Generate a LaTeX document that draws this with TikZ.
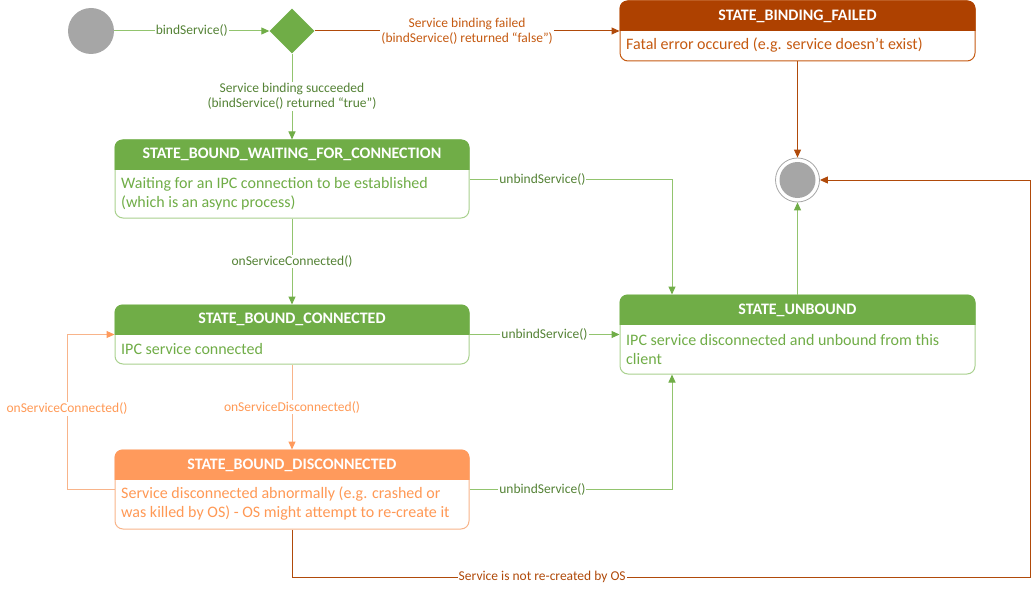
\documentclass[tikz,border=0pt]{standalone}
\usepackage{fontspec}
\setmainfont{Carlito}
\usetikzlibrary{arrows.meta,shapes.geometric}
\definecolor{gA}{HTML}{70AD47}
\definecolor{gL}{HTML}{A9D18E}
\definecolor{gLine}{HTML}{92C46E}
\definecolor{gD}{HTML}{548235}
\definecolor{rA}{HTML}{AE4100}
\definecolor{rT}{HTML}{C55A11}
\definecolor{rD}{HTML}{B04A0A}
\definecolor{oA}{HTML}{FF9A5C}
\definecolor{oL}{HTML}{F8B48A}
\definecolor{oT}{HTML}{FF9955}
\definecolor{greyc}{HTML}{A6A6A6}
\newcommand{\hdr}[3]{%
  \begin{scope}
    \clip ([shift={(-2,-2)}]#1.north west) rectangle ([shift={(2,#3)}]#1.north east);
    \fill[#2, rounded corners=8pt] (#1.north west) rectangle (#1.south east);
  \end{scope}}
\tikzset{
  box/.style={rectangle, rounded corners=8pt, line width=1pt, fill=white, inner sep=0pt},
  ttl/.style={text=white, font=\fontsize{16}{18}\selectfont\bfseries, inner sep=0pt},
  body/.style={anchor=west, align=left, inner sep=0pt, font=\fontsize{16}{19}\selectfont},
  lbl/.style={fill=white, inner sep=1pt, align=center, font=\fontsize{13.5}{15}\selectfont},
  gline/.style={draw=gLine, line width=1pt, -{Triangle[length=8pt,width=7pt,color=gA]}},
  oline/.style={draw=oL, line width=1pt, -{Triangle[length=8pt,width=7pt,color=oA]}},
  rline/.style={draw=rD, line width=1pt, -{Triangle[length=8pt,width=7pt,color=rD]}}
}
\begin{document}
\begin{tikzpicture}[x=1pt,y=-1pt]
\useasboundingbox (0,0) rectangle (1033,591);
% initial & decision
\node[circle, fill=greyc, minimum size=46pt, inner sep=0pt] (init) at (91,31) {};
\node[diamond, fill=gA, minimum width=45pt, minimum height=45pt, inner sep=0pt] (dia) at (292,31) {};
% failed state
\node[box, draw=rT, minimum width=355pt, minimum height=60pt] (fail) at (797.5,31) {};
\hdr{fail}{rA}{30}
\node[ttl] (failT) at (797.5,16) {STATE\_BINDING\_FAILED};
\node[body, text=rT] (failB) at (626,45) {Fatal error occured (e.g. service doesn't exist)};
% final state
\node[circle, draw=greyc, line width=0.8pt, minimum size=44pt, inner sep=0pt] (fin) at (797.5,180) {};
\fill[greyc] (fin.center) circle[radius=18pt];
% waiting
\node[box, draw=gL, minimum width=354pt, minimum height=78pt] (wait) at (292,179) {};
\hdr{wait}{gA}{29.5}
\node[ttl] (waitT) at (292,154) {STATE\_BOUND\_WAITING\_FOR\_CONNECTION};
\node[body, text=gA] (waitB) at (121,193.5) {Waiting for an IPC connection to be established\\(which is an async process)};
% connected
\node[box, draw=gL, minimum width=354pt, minimum height=59pt] (conn) at (292,334.5) {};
\hdr{conn}{gA}{29.5}
\node[ttl] (connT) at (292,319.5) {STATE\_BOUND\_CONNECTED};
\node[body, text=gA] (connB) at (121,349) {IPC service connected};
% disconnected
\node[box, draw=oL, minimum width=354pt, minimum height=79pt] (disc) at (292,489.5) {};
\hdr{disc}{oA}{30}
\node[ttl] (discT) at (292,465) {STATE\_BOUND\_DISCONNECTED};
\node[body, text=oT] (discB) at (121,504) {Service disconnected abnormally (e.g. crashed or\\was killed by OS) - OS might attempt to re-create it};
% unbound
\node[box, draw=gL, minimum width=355pt, minimum height=79pt] (unb) at (797.5,334.5) {};
\hdr{unb}{gA}{30}
\node[ttl] (unbT) at (797.5,310) {STATE\_UNBOUND};
\node[body, text=gA] (unbB) at (626,349.5) {IPC service disconnected and unbound from this\\client};
% helper coordinates
\coordinate (ux) at (672,0);
\coordinate (lx) at (67,0);
\coordinate (br) at (1030,577);
% connectors
\draw[gline] (init) -- node[lbl, text=gD] (l1) {bindService()} (dia);
\draw[rline] (dia) -- node[lbl, text=rT] (l2) {Service binding failed\\(bindService() returned “false”)} (fail);
\draw[gline] (dia) -- node[lbl, text=gD] (l3) {Service binding succeeded\\(bindService() returned “true”)} (wait);
\draw[rline] (fail) -- (fin);
\draw[gline] (wait) -- node[lbl, text=gD] (l4) {onServiceConnected()} (conn);
\draw[oline] (conn) -- node[lbl, text=oT] (l5) {onServiceDisconnected()} (disc);
\draw[gline] (wait.east) -- node[lbl, text=gD, pos=0.36] (l6) {unbindService()} (wait.east -| ux) -- (ux |- unb.north);
\draw[gline] (conn.east) -- node[lbl, text=gD] (l7) {unbindService()} (conn.east -| unb.west);
\draw[gline] (disc.east) -- node[lbl, text=gD, pos=0.36] (l8) {unbindService()} (disc.east -| ux) -- (ux |- unb.south);
\draw[gline] (unb) -- (fin);
\draw[oline] (disc.west) -- (disc.west -| lx) -- node[lbl, text=oT, pos=0.52] (l9) {onServiceConnected()} (conn.west -| lx) -- (conn.west);
\draw[rline] (disc.south) -- (disc.south |- br) -- node[lbl, text=rD, pos=0.339] (l10) {Service is not re-created by OS} (br) -- (br |- fin.east) -- (fin.east);
\end{tikzpicture}
\end{document}
